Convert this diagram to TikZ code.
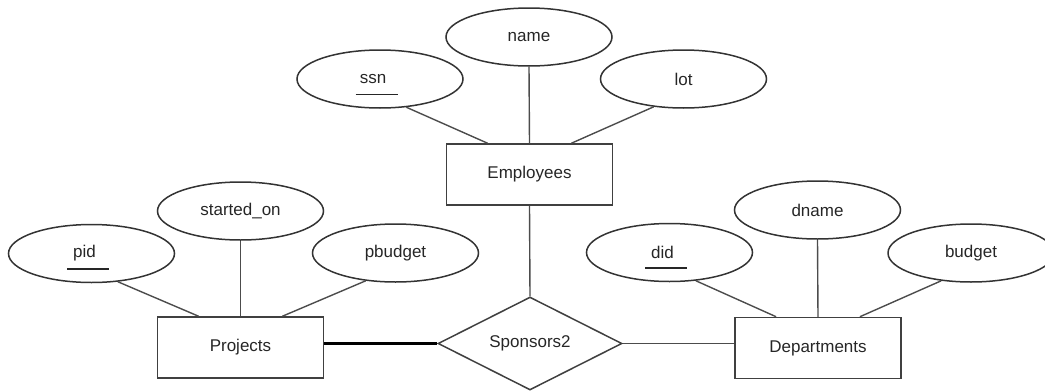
\documentclass[tikz,border=0pt]{standalone}
\usepackage{fontspec}
\setmainfont{Liberation Sans}
\usetikzlibrary{shapes.geometric,calc}

\begin{document}
\begin{tikzpicture}[x=1pt,y=-1pt,
  every node/.style={font=\fontsize{17}{20}\selectfont, text=black!85},
  attr/.style={ellipse, draw=black!80, line width=1.5pt, minimum width=166pt, minimum height=58pt, inner sep=0pt},
  entity/.style={rectangle, draw=black!75, line width=1.5pt, minimum width=166pt, minimum height=61pt, inner sep=0pt},
  relship/.style={diamond, draw=black!75, line width=1.5pt, minimum width=184pt, minimum height=93pt, inner sep=0pt, aspect=2},
  link/.style={draw=black!70, line width=1.4pt},
  total/.style={draw=black, line width=3.4pt},
  keyline/.style={draw=black!85, line width=1.3pt}]

\useasboundingbox (0,0) rectangle (1045,391);

% entities and the relationship
\node[entity] (emp)  at (529.5,174.5) {Employees};
\node[entity] (proj) at (240.5,347.5) {Projects};
\node[entity] (dept) at (818,348) {Departments};
\node[relship] (spons) at (530,343.5) {Sponsors2};

% attributes of Employees
\node[attr] (name) at (529,37)   {name};
\node[attr] (ssn)  at (380,79)   {\hspace*{-14pt}ssn};
\node[attr] (lot)  at (683.5,79) {lot};

% attributes of Projects
\node[attr] (started) at (240.5,211) {started\_on};
\node[attr] (pid)     at (91.5,253.5) {\hspace*{-14pt}pid};
\node[attr] (pbudget) at (395.5,253) {pbudget};

% attributes of Departments
\node[attr] (did)    at (669.5,252.5) {\hspace*{-14pt}did};
\node[attr] (dname)  at (817.5,210)   {dname};
\node[attr] (budget) at (971,253)     {budget};

% key underlines
\draw[keyline] ($(ssn.center)+(-24.5,15.5)$) -- ++(42,0);
\draw[keyline] ($(pid.center)+(-24.5,15.5)$) -- ++(42,0);
\draw[keyline] ($(did.center)+(-24.5,15.5)$) -- ++(42,0);

% attribute links
\draw[link] (ssn.-47)  -- ($(emp.north west)!0.25!(emp.north east)$);
\draw[link] (name.south) -- (emp.north);
\draw[link] (lot.-137) -- ($(emp.north west)!0.75!(emp.north east)$);

\draw[link] (pid.-47)  -- ($(proj.north west)!0.25!(proj.north east)$);
\draw[link] (started.south) -- (proj.north);
\draw[link] (pbudget.-137) -- ($(proj.north west)!0.75!(proj.north east)$);

\draw[link] (did.-47)  -- ($(dept.north west)!0.25!(dept.north east)$);
\draw[link] (dname.south) -- (dept.north);
\draw[link] (budget.-137) -- ($(dept.north west)!0.75!(dept.north east)$);

% relationship links
\draw[link]  (emp.south) -- (spons.north);
\draw[total] (proj.east |- spons.west) -- (spons.west);
\draw[link]  (spons.east) -- (dept.west |- spons.east);
\end{tikzpicture}
\end{document}
